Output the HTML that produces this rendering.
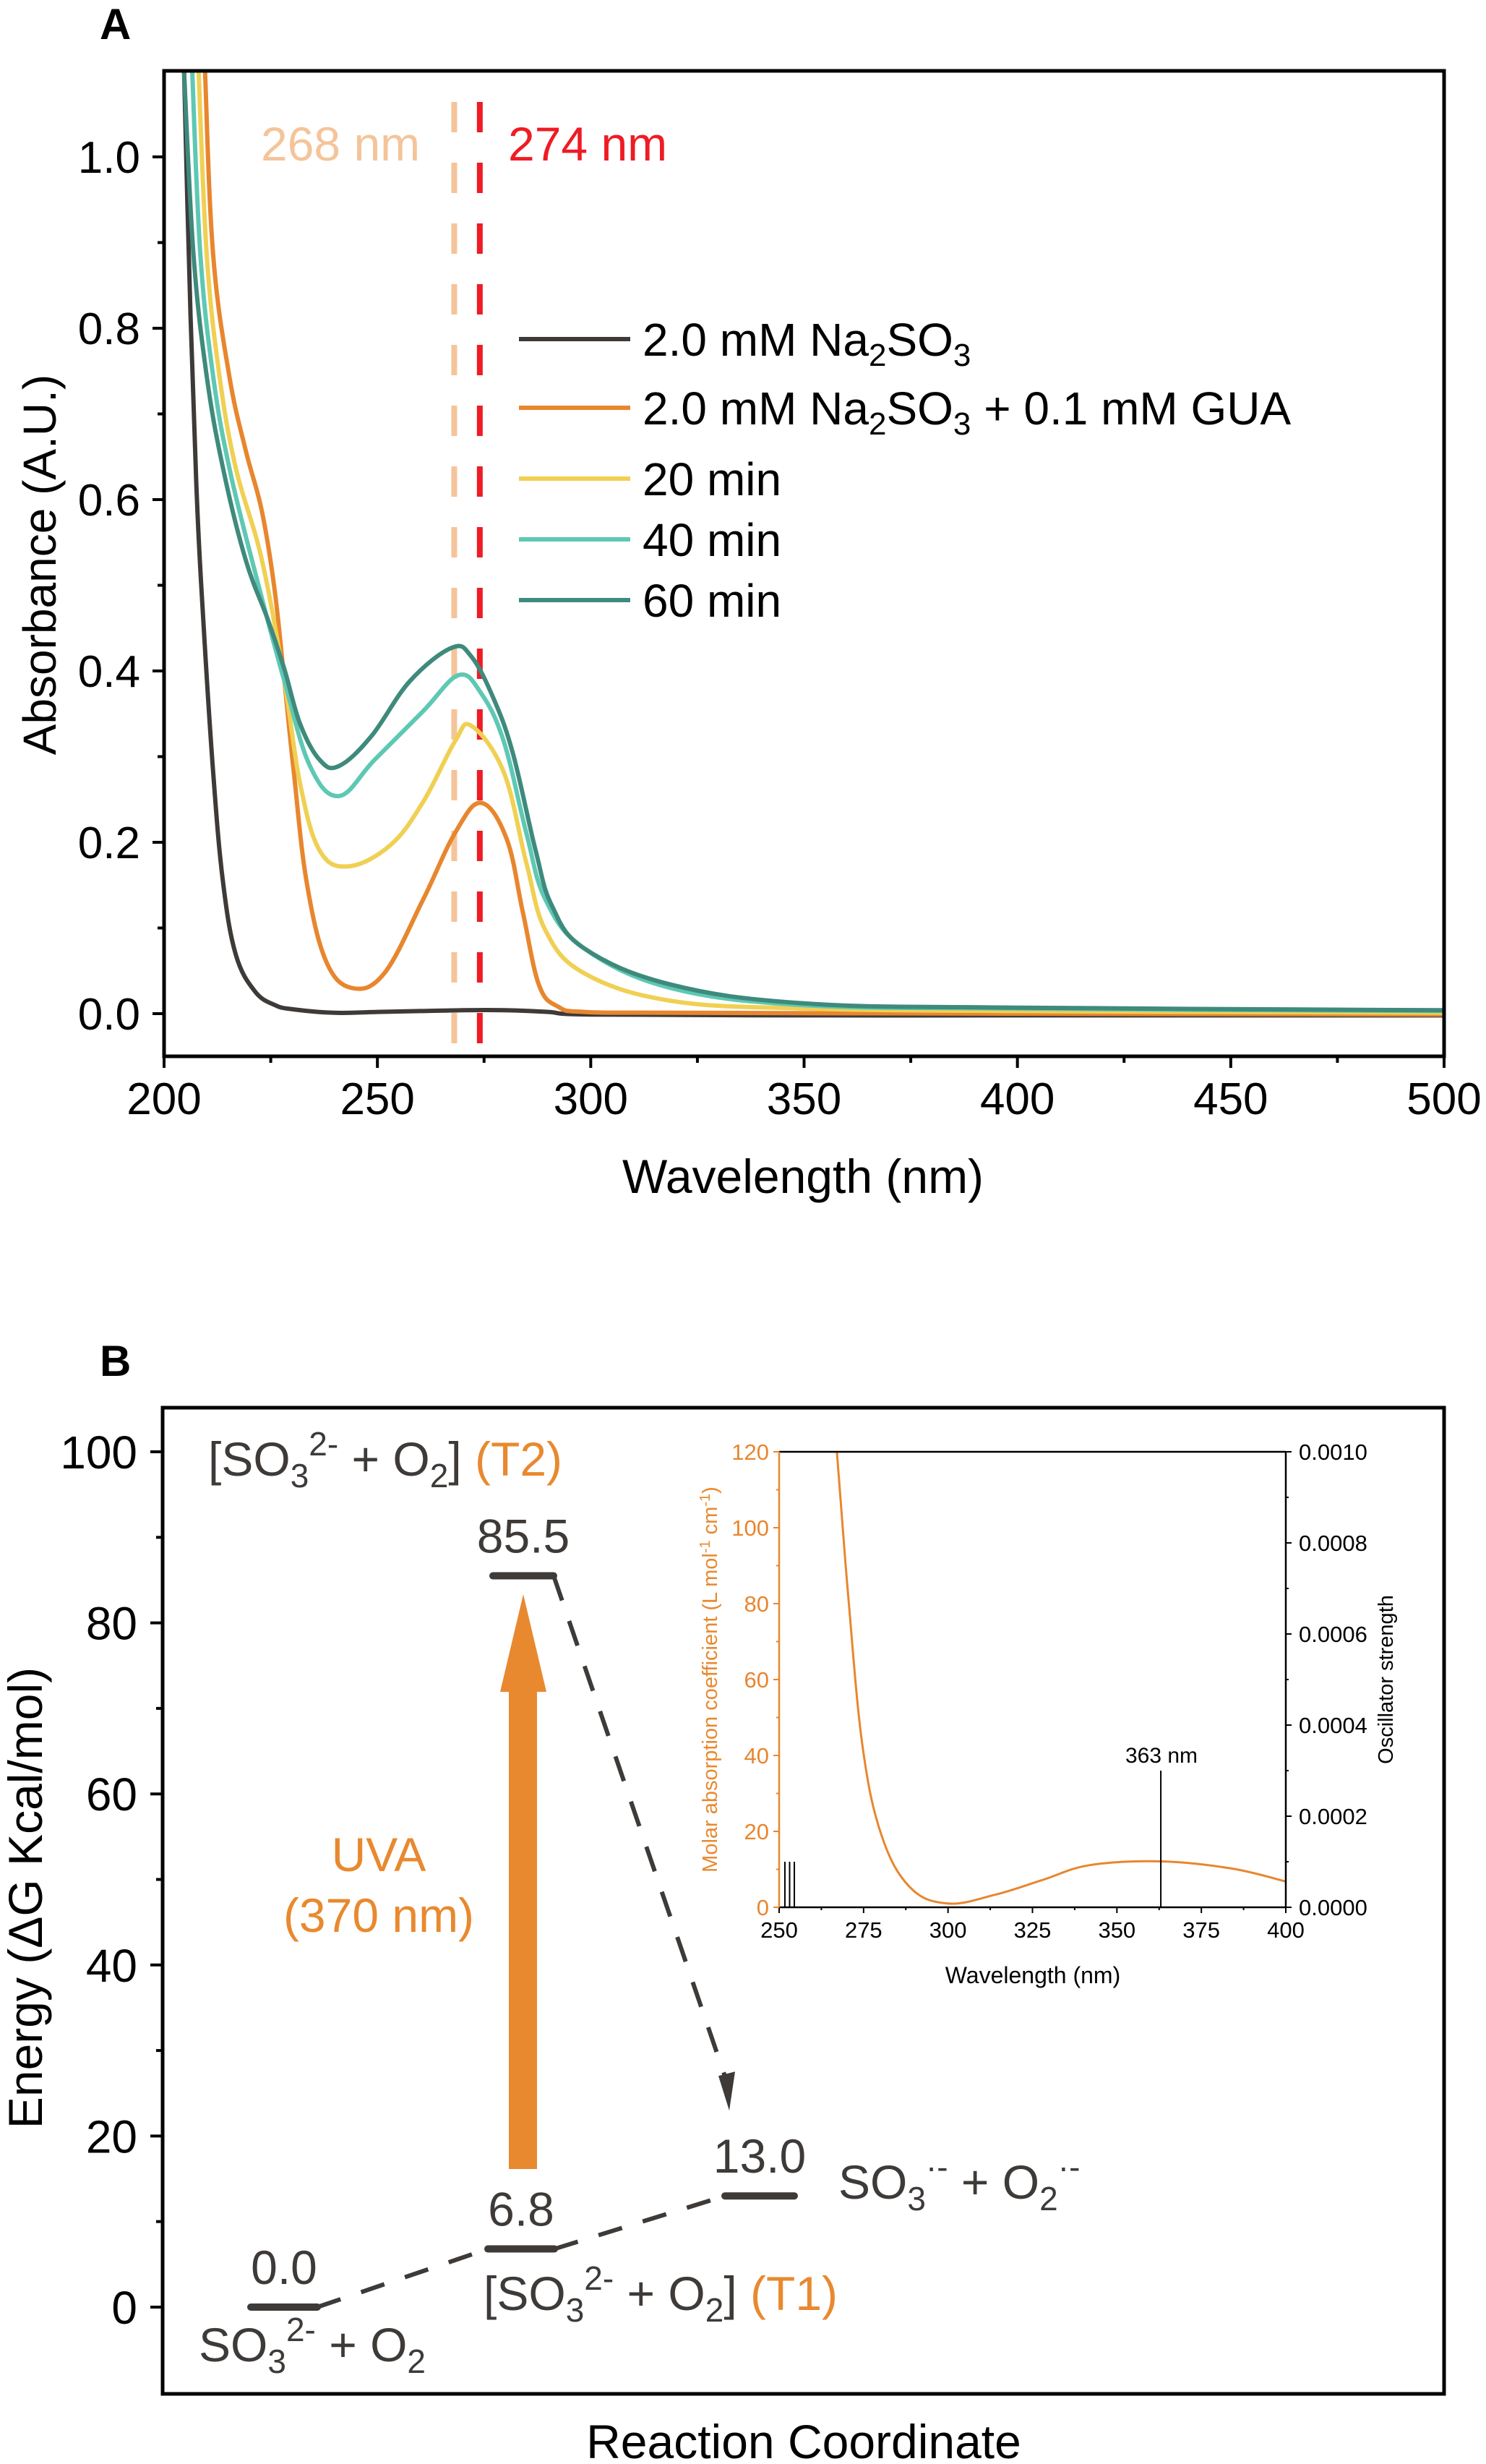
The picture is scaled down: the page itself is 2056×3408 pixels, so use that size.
<!DOCTYPE html>
<html><head><meta charset="utf-8"><title>UV-Vis and energy diagram</title>
<style>
html,body{margin:0;padding:0;background:#fff;}
svg{display:block;font-family:"Liberation Sans",Arial,sans-serif;}
</style></head>
<body>
<svg id="fig" width="2056" height="3408" viewBox="0 0 2056 3408" xmlns="http://www.w3.org/2000/svg">
<defs>
<clipPath id="clipA"><rect x="227" y="98" width="1771" height="1363"/></clipPath>
<clipPath id="clipI"><rect x="1078" y="2008" width="701" height="630"/></clipPath>
</defs>
<g id="panelA">
<text x="138" y="54" font-size="60" font-weight="bold" fill="#000">A</text>
<g id="curvesA" clip-path="url(#clipA)"></g>
<g id="axesA"></g>
<rect x="227" y="98" width="1771" height="1363" fill="none" stroke="#000" stroke-width="5"/>
<text x="361" y="222" font-size="66" fill="#f4c49a">268 nm</text>
<text x="703" y="222" font-size="66" fill="#ee1c24">274 nm</text>
<g font-size="64" fill="#000">
<line x1="718" y1="469" x2="872" y2="469" stroke="#3d3a38" stroke-width="6"/>
<text x="889" y="492">2.0 mM Na<tspan font-size="44" dy="14">2</tspan><tspan dy="-14">SO</tspan><tspan font-size="44" dy="14">3</tspan></text>
<line x1="718" y1="564" x2="872" y2="564" stroke="#e8862e" stroke-width="6"/>
<text x="889" y="587">2.0 mM Na<tspan font-size="44" dy="14">2</tspan><tspan dy="-14">SO</tspan><tspan font-size="44" dy="14">3</tspan><tspan dy="-14"> + 0.1 mM GUA</tspan></text>
<line x1="718" y1="662" x2="872" y2="662" stroke="#f0d054" stroke-width="6"/>
<text x="889" y="685">20 min</text>
<line x1="718" y1="746" x2="872" y2="746" stroke="#5ec8b4" stroke-width="6"/>
<text x="889" y="769">40 min</text>
<line x1="718" y1="830" x2="872" y2="830" stroke="#3e8a7c" stroke-width="6"/>
<text x="889" y="853">60 min</text>
</g>
<text x="1111" y="1650" font-size="66" text-anchor="middle" fill="#000">Wavelength (nm)</text>
<text transform="translate(77,781) rotate(-90)" font-size="64" text-anchor="middle" fill="#000">Absorbance (A.U.)</text>
</g>

<g id="panelB">
<text x="138" y="1903" font-size="60" font-weight="bold" fill="#000">B</text>
<g id="axesB"></g>
<rect x="225" y="1947" width="1773" height="1364" fill="none" stroke="#000" stroke-width="5"/>
<g id="energy"></g>
<g>
<rect x="704" y="2330" width="39" height="670" fill="#e8892f"/>
<polygon points="692,2340 756,2340 724,2205" fill="#e8892f"/>
</g>
<text x="524" y="2588" font-size="66" text-anchor="middle" fill="#e8892f">UVA</text>
<text x="524" y="2672" font-size="66" text-anchor="middle" fill="#e8892f">(370 nm)</text>
<g font-size="66" fill="#3d3a38">
<text x="288" y="2041">[SO<tspan font-size="46" dy="16">3</tspan><tspan font-size="46" dy="-44">2-</tspan><tspan dy="28"> + O</tspan><tspan font-size="46" dy="16">2</tspan><tspan dy="-16">] </tspan><tspan fill="#e8892f">(T2)</tspan></text>
<text x="275" y="3266">SO<tspan font-size="46" dy="16">3</tspan><tspan font-size="46" dy="-44">2-</tspan><tspan dy="28"> + O</tspan><tspan font-size="46" dy="16">2</tspan></text>
<text x="669" y="3195">[SO<tspan font-size="46" dy="16">3</tspan><tspan font-size="46" dy="-44">2-</tspan><tspan dy="28"> + O</tspan><tspan font-size="46" dy="16">2</tspan><tspan dy="-16">] </tspan><tspan fill="#e8892f">(T1)</tspan></text>
<text x="1160" y="3041">SO<tspan font-size="46" dy="16">3</tspan><tspan font-size="46" dy="-44">·-</tspan><tspan dy="28"> + O</tspan><tspan font-size="46" dy="16">2</tspan><tspan font-size="46" dy="-44">·-</tspan></text>
</g>
<text x="1112" y="3400" font-size="66" text-anchor="middle" fill="#000">Reaction Coordinate</text>
<text transform="translate(58,2625) rotate(-90)" font-size="66" text-anchor="middle" fill="#000">Energy (ΔG Kcal/mol)</text>

<g id="inset">
<g id="insetCurve" clip-path="url(#clipI)"></g>
<g id="insetAxes"></g>
<text x="1429" y="2743" font-size="32" text-anchor="middle" fill="#000">Wavelength (nm)</text>
<text transform="translate(992,2323) rotate(-90)" font-size="29" text-anchor="middle" fill="#e8892f">Molar absorption coefficient (L mol<tspan font-size="20" dy="-10">-1</tspan><tspan dy="10"> cm</tspan><tspan font-size="20" dy="-10">-1</tspan><tspan dy="10">)</tspan></text>
<text transform="translate(1927,2323) rotate(-90)" font-size="29" text-anchor="middle" fill="#000">Oscillator strength</text>
<text x="1607" y="2438" font-size="30" text-anchor="middle" fill="#000">363 nm</text>
</g>
</g>
<script>
// ---------- Panel A data ----------
const blackWl = [204,204.7,206.2,207.7,209.2,211.5,213.8,216.8,221.3,226,230.4,240,250,260,270,280,290,300,350,400,500];
const blackA  = [1.3,1.1,0.815,0.60,0.459,0.282,0.154,0.069,0.026,0.01,0.005,0.001,0.002,0.003,0.004,0.004,0.002,-0.001,-0.002,-0.002,-0.002];
const guaWl = [209,209.6,211.5,215.3,219.1,222.9,225.9,228.2,230.4,233.4,237.9,244,251.6,260.7,268.2,274.3,280.3,284.1,287.9,292.4,298.5,320,400,500];
const guaA  = [1.2,1.1,0.886,0.744,0.658,0.587,0.495,0.388,0.282,0.154,0.062,0.030,0.047,0.133,0.211,0.246,0.204,0.118,0.033,0.008,0.002,0.001,0.0,-0.001];
const m20Wl = [207.5,208.1,210,213,216.8,222.9,228.2,231.9,236.5,243.3,253.1,260.7,268.2,272,279.6,284.9,289.4,298.5,318.7,350,400,500];
const m20A  = [1.2,1.1,0.886,0.744,0.637,0.530,0.388,0.268,0.19,0.172,0.197,0.247,0.318,0.336,0.282,0.176,0.097,0.047,0.015,0.006,0.003,0.001];
const m40Wl = [206,206.6,208.5,211.5,215.3,221.3,228.2,234.2,241,249.3,260.7,269,274.3,279.6,284.9,289.4,298.5,318.7,350,400,500];
const m40A  = [1.2,1.1,0.886,0.744,0.637,0.516,0.388,0.289,0.254,0.296,0.353,0.395,0.374,0.318,0.211,0.133,0.076,0.030,0.010,0.006,0.003];
const m60Wl = [204,204.7,206.9,210,213.8,219.1,224.4,228.2,231.9,236.5,241,248.6,257.6,267.4,272,277.3,281.8,287.1,290.9,298.5,318.7,350,400,500];
const m60A  = [1.2,1.1,0.886,0.744,0.637,0.530,0.459,0.402,0.338,0.296,0.289,0.324,0.388,0.427,0.417,0.367,0.303,0.190,0.126,0.076,0.034,0.012,0.007,0.004];
const xTicksA = [200,250,300,350,400,450,500];
const yTicksA = [0.0,0.2,0.4,0.6,0.8,1.0];
const yTickLabelsA = ["0.0","0.2","0.4","0.6","0.8","1.0"];
const markerWl = [268,274];
// ---------- Panel B data ----------
const levelNames = ["ground","t1","product","t2"];
const levelValues = [0.0,6.8,13.0,85.5];
const levelLabels = ["0.0","6.8","13.0","85.5"];
const yTicksB = [0,20,40,60,80,100];
// ---------- Inset data ----------
const insetWl  = [266.5,267.1,270.5,274.7,280.3,288.7,299.9,313.9,328,342,363,384,400];
const insetEps = [130,120,81.5,42.4,19,5.3,1.0,3.3,7.2,11.1,12.1,10.2,6.8];
const stickWl = [251.7,253.1,254.5,363];
const stickF  = [0.0001,0.0001,0.0001,0.0003];
const insetXTicks = [250,275,300,325,350,375,400];
const insetLeftTicks = [0,20,40,60,80,100,120];
const insetRightTicks = [0,0.0002,0.0004,0.0006,0.0008,0.0010];
const insetRightLabels = ["0.0000","0.0002","0.0004","0.0006","0.0008","0.0010"];

const NS = "http://www.w3.org/2000/svg";
function mk(tag, parent, attrs){
  const e = document.createElementNS(NS, tag);
  for (const k in attrs) e.setAttribute(k, attrs[k]);
  parent.appendChild(e);
  return e;
}
const xA = wl => 227 + (wl - 200) * (1771 / 300);
const yA = a => 1402 - a * 1185;
const yB = v => 3191 - v * 11.83;
const xI = wl => 1078 + (wl - 250) / 150 * 701;
const yIL = v => 2638 - v / 120 * 630;
const yIR = f => 2638 - f / 0.001 * 630;

function smoothPath(xs, ys){
  const p = xs.map((x,i)=>[x, ys[i]]);
  let d = "M" + p[0][0].toFixed(1) + "," + p[0][1].toFixed(1);
  for (let i = 0; i < p.length - 1; i++){
    const p0 = p[i-1] || p[i], p1 = p[i], p2 = p[i+1], p3 = p[i+2] || p2;
    const t = 0.18;
    const c1 = [p1[0] + (p2[0]-p0[0])*t, p1[1] + (p2[1]-p0[1])*t];
    const c2 = [p2[0] - (p3[0]-p1[0])*t, p2[1] - (p3[1]-p1[1])*t];
    d += " C" + c1.map(v=>v.toFixed(1)).join(",") + " " + c2.map(v=>v.toFixed(1)).join(",") + " " + p2[0].toFixed(1) + "," + p2[1].toFixed(1);
  }
  return d;
}

const axA = document.getElementById("axesA");
for (let v = 200; v <= 500; v += 25){
  const major = v % 50 === 0;
  const t = mk("line", axA, {x1:xA(v), x2:xA(v), y1:1461, y2:1461 + (major?16:9), stroke:"#000", "stroke-width":4});
  
  
}
xTicksA.forEach(v=>{
  const t = mk("text", axA, {x:xA(v), y:1541, "font-size":62, "text-anchor":"middle", fill:"#000"});
  t.textContent = String(v);
  
  
});
for (let k = 0; k <= 10; k++){
  const v = k / 10;
  const major = k % 2 === 0;
  const t = mk("line", axA, {x1:227 - (major?16:9), x2:227, y1:yA(v), y2:yA(v), stroke:"#000", "stroke-width":4});
  
  
}
yTicksA.forEach((v,i)=>{
  const t = mk("text", axA, {x:194, y:yA(v) + 22, "font-size":62, "text-anchor":"end", fill:"#000"});
  t.textContent = yTickLabelsA[i];
  
  
});

const cA = document.getElementById("curvesA");
const markerColors = ["#f4c49a","#ee1c24"];
markerWl.forEach((w,i)=>{
  const l = mk("line", cA, {x1:xA(w), x2:xA(w), y1:141, y2:1461, stroke:markerColors[i], "stroke-width":8, "stroke-dasharray":"42 42"});
  
  
});
const series = [
  {n:"series-na2so3", wl:blackWl, a:blackA, c:"#3d3a38"},
  {n:"series-gua", wl:guaWl, a:guaA, c:"#e8862e"},
  {n:"series-20min", wl:m20Wl, a:m20A, c:"#f0d054"},
  {n:"series-40min", wl:m40Wl, a:m40A, c:"#5ec8b4"},
  {n:"series-60min", wl:m60Wl, a:m60A, c:"#3e8a7c"}
];
series.forEach(s=>{
  const p = mk("path", cA, {d:smoothPath(s.wl.map(xA), s.a.map(yA)), fill:"none", stroke:s.c, "stroke-width":6, "stroke-linejoin":"round"});
  
  
});

const axB = document.getElementById("axesB");
for (let v = 0; v <= 100; v += 10){
  const major = v % 20 === 0;
  const t = mk("line", axB, {x1:225 - (major?17:9), x2:225, y1:yB(v), y2:yB(v), stroke:"#000", "stroke-width":4});
  
  
}
yTicksB.forEach(v=>{
  const t = mk("text", axB, {x:190, y:yB(v) + 23, "font-size":64, "text-anchor":"end", fill:"#000"});
  t.textContent = String(v);
  
  
});

const en = document.getElementById("energy");
const levelX = [393, 721, 1051, 724];
const levelHalf = [46, 46, 48, 42];
const conn = mk("path", en, {d:"M" + (levelX[0]+levelHalf[0]) + "," + yB(levelValues[0]) + " L" + (levelX[1]-levelHalf[1]) + "," + yB(levelValues[1]) + " M" + (levelX[1]+levelHalf[1]) + "," + yB(levelValues[1]) + " L" + (levelX[2]-levelHalf[2]) + "," + yB(levelValues[2]), fill:"none", stroke:"#3d3a38", "stroke-width":6, "stroke-dasharray":"34 30"});


const relaxStart = [levelX[3]+levelHalf[3], yB(levelValues[3])];
const relaxEnd = [1009, yB(levelValues[2]) - 118];
const relax = mk("line", en, {x1:relaxStart[0], y1:relaxStart[1], x2:relaxEnd[0], y2:relaxEnd[1] - 30, stroke:"#3d3a38", "stroke-width":6, "stroke-dasharray":"36 30"});


const ah = mk("polygon", en, {points:(relaxEnd[0]-15)+","+(relaxEnd[1]-48)+" "+(relaxEnd[0]+8)+","+(relaxEnd[1]-54)+" "+relaxEnd[0]+","+relaxEnd[1], fill:"#3d3a38"});


levelValues.forEach((v,i)=>{
  const b = mk("line", en, {x1:levelX[i]-levelHalf[i], x2:levelX[i]+levelHalf[i], y1:yB(v), y2:yB(v), stroke:"#3d3a38", "stroke-width":10, "stroke-linecap":"round"});
  
  
  const t = mk("text", en, {x:levelX[i], y:yB(v) - 32, "font-size":66, "text-anchor":"middle", fill:"#3d3a38"});
  t.textContent = levelLabels[i];
  
  
});

const ia = document.getElementById("insetAxes");
const ic = document.getElementById("insetCurve");
const curve = mk("path", ic, {d:smoothPath(insetWl.map(xI), insetEps.map(yIL)), fill:"none", stroke:"#e8862e", "stroke-width":3});


stickWl.forEach((w,i)=>{
  const s = mk("line", ia, {x1:xI(w), x2:xI(w), y1:yIR(0), y2:yIR(stickF[i]), stroke:"#000", "stroke-width":2});
  
  
});
const topL = mk("line", ia, {x1:1078, x2:1779, y1:2008, y2:2008, stroke:"#000", "stroke-width":2.5});


const botL = mk("line", ia, {x1:1078, x2:1779, y1:2638, y2:2638, stroke:"#000", "stroke-width":2.5});


const leftL = mk("line", ia, {x1:1078, x2:1078, y1:2008, y2:2638, stroke:"#e8862e", "stroke-width":2.5});


const rightL = mk("line", ia, {x1:1779, x2:1779, y1:2008, y2:2638, stroke:"#000", "stroke-width":2.5});


for (let w = 250; w <= 400; w += 12.5){
  const major = (w % 25) === 0;
  const t = mk("line", ia, {x1:xI(w), x2:xI(w), y1:2638, y2:2638 + (major?8:4), stroke:"#000", "stroke-width":2});
  
  
}
insetXTicks.forEach(w=>{
  const t = mk("text", ia, {x:xI(w), y:2680, "font-size":31, "text-anchor":"middle", fill:"#000"});
  t.textContent = String(w);
  
  
});
for (let v = 0; v <= 120; v += 10){
  const major = v % 20 === 0;
  const t = mk("line", ia, {x1:1078 - (major?8:4), x2:1078, y1:yIL(v), y2:yIL(v), stroke:"#e8862e", "stroke-width":2});
  
  
}
insetLeftTicks.forEach(v=>{
  const t = mk("text", ia, {x:1064, y:yIL(v) + 11, "font-size":31, "text-anchor":"end", fill:"#e8862e"});
  t.textContent = String(v);
  
  
});
for (let k = 0; k <= 10; k++){
  const f = k * 0.0001;
  const major = k % 2 === 0;
  const t = mk("line", ia, {x1:1779, x2:1779 + (major?8:4), y1:yIR(f), y2:yIR(f), stroke:"#000", "stroke-width":2});
  
  
}
insetRightTicks.forEach((f,i)=>{
  const t = mk("text", ia, {x:1797, y:yIR(f) + 11, "font-size":31, "text-anchor":"start", fill:"#000"});
  t.textContent = insetRightLabels[i];
  
  
});
</script>
</svg>
</body></html>
